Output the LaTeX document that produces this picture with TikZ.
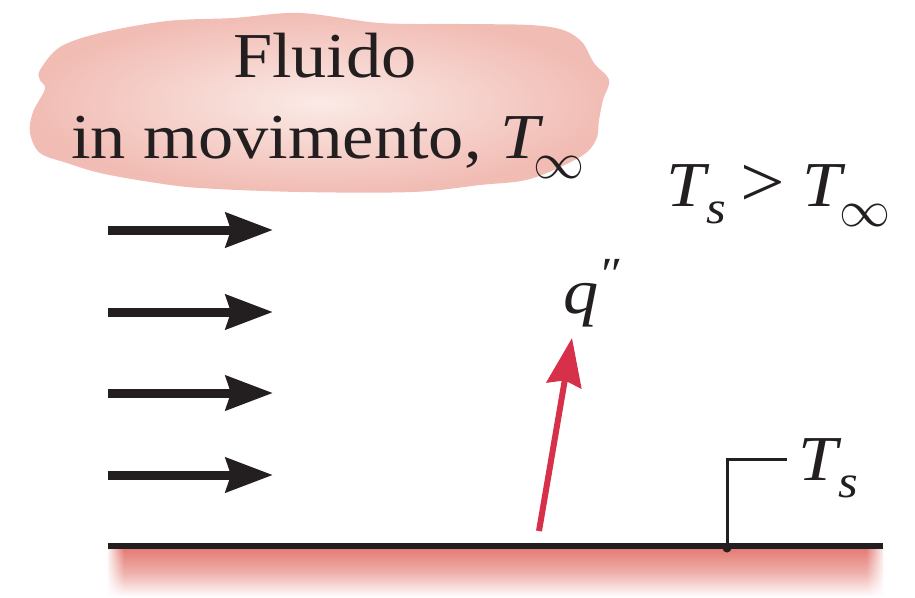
\documentclass[tikz,border=0pt]{standalone}
\usepackage{fontspec}
\setmainfont{Liberation Serif}[FakeStretch=1.1]
\usetikzlibrary{arrows.meta,fadings}
\definecolor{cloudin}{HTML}{FBEAE6}
\definecolor{cloudout}{HTML}{F1BCB4}
\definecolor{qred}{HTML}{D7304A}
\definecolor{surfred}{HTML}{E47D75}
\definecolor{ink}{HTML}{231F20}
\newcommand\bigsz{\fontsize{64}{64}\selectfont}
\newcommand\subsz{\fontsize{46}{46}\selectfont}
\newcommand\relsz{\fontsize{72}{72}\selectfont}
\newcommand\infsym{\raisebox{-20pt}{\scalebox{5.1}{\fontsize{10}{12}\selectfont$\infty$}}}
\tikzset{
  lbl/.style={inner sep=0pt, outer sep=0pt, font=\bigsz, text=ink},
  flow/.style={line width=9pt, draw=ink, -{Stealth[length=47pt, width=34pt, inset=5pt]}},
  heat/.style={line width=6pt, draw=qred, -{Stealth[length=48pt, width=35pt, inset=5pt]}},
}
\begin{document}
\begin{tikzpicture}[x=1pt, y=-1pt]
\useasboundingbox (0,0) rectangle (915,597);
% cloud
\shade[inner color=cloudin, outer color=cloudout]
  plot[smooth cycle, tension=0.55] coordinates {
   (40,70) (60,47) (100,33) (167,21) (233,18) (300,13) (380,23) (460,24)
   (530,25) (563,30) (582,42) (594,63) (609,80) (603,100) (599,120)
   (596,140) (580,157) (530,179) (480,185) (413,192) (300,192) (200,188)
   (150,182) (100,173) (67,163) (40,153) (30,133) (33,112) (45,89) (40,80)};
\node[lbl, anchor=base] (fluido) at (325,77) {Fluido};
\node[lbl, anchor=base west] (mov) at (71,158)
  {in movimento,\hspace{19pt}\textit{T}\kern-10pt\infsym};
% relation
\node[lbl, anchor=base west] (rel) at (666,206)
  {\textit{T}\kern-3pt\raisebox{-17pt}{\subsz\textit{s}}\hspace{14pt}{\relsz >}\hspace{18pt}\textit{T}\kern-6pt\infsym};
% flow arrows
\coordinate (a1s) at (108,230); \coordinate (a1e) at (273,230);
\coordinate (a2s) at (108,312); \coordinate (a2e) at (273,312);
\coordinate (a3s) at (108,393); \coordinate (a3e) at (273,393);
\coordinate (a4s) at (108,475); \coordinate (a4e) at (273,475);
\draw[flow] (a1s) -- (a1e);
\draw[flow] (a2s) -- (a2e);
\draw[flow] (a3s) -- (a3e);
\draw[flow] (a4s) -- (a4e);
% surface
\shade[top color=surfred, bottom color=white, middle color=surfred!60] (108,549) rectangle (883,597);
\fill[white, path fading=east] (106,549) rectangle (124,597);
\fill[white, path fading=west] (866,549) rectangle (885,597);
\coordinate (sl) at (108,546); \coordinate (sr) at (883,546);
\draw[ink, line width=6pt] (sl) -- (sr);
% heat flux arrow
\coordinate (qs) at (539,531); \coordinate (qe) at (572,338);
\draw[heat] (qs) -- (qe);
\node[lbl, anchor=base west] (q) at (563,313)
  {\textit{q}\raisebox{0.36em}{\subsz\textit{″}}};
% Ts leader
\coordinate (dot) at (727,548);
\fill[ink] (dot) circle (4.5pt);
\node[lbl, anchor=base west] (ts) at (798,480)
  {\textit{T}\kern-3pt\raisebox{-17pt}{\subsz\textit{s}}};
\draw[ink, line width=3pt] (dot) |- (787,459);
\end{tikzpicture}
\end{document}
